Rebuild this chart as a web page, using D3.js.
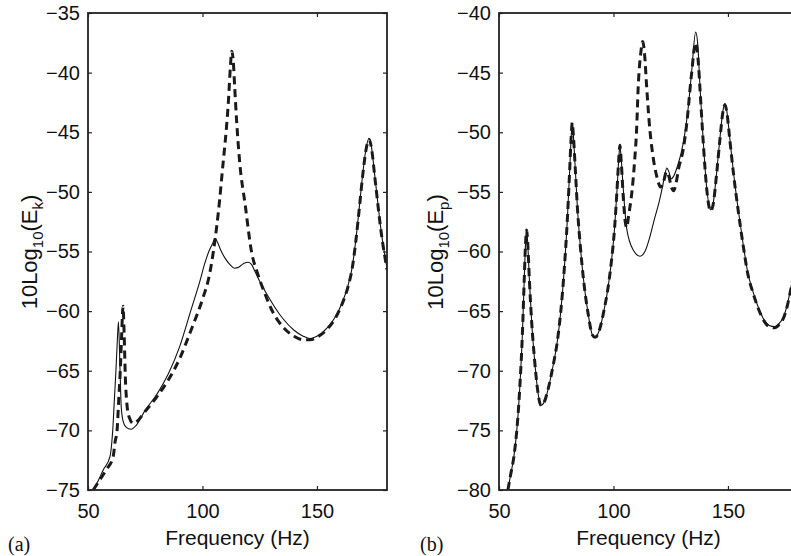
<!DOCTYPE html>
<html>
<head>
<meta charset="utf-8">
<script src="https://cdn.jsdelivr.net/npm/d3@7"></script>
<style>
  html, body { margin: 0; padding: 0; background: #fff; }
  svg text { font-family: "Liberation Sans", Arial, Helvetica, sans-serif; fill: #111; }
</style>
</head>
<body>
<div id="chart"></div>
<script>
/* ---------------------------------------------------------------------------
 * data (frequency in Hz, level in dB)
 * -------------------------------------------------------------------------*/
var xTicks = [50, 100, 150];
var yTicksK = [-75, -70, -65, -60, -55, -50, -45, -40, -35];
var yTicksP = [-80, -75, -70, -65, -60, -55, -50, -45, -40];

// (a) kinetic energy, thin solid line
var freqKSolid = [51, 52.3, 54.5, 56.7, 59.6, 60.3, 60.8, 61.5, 62.2, 62.8, 63.3, 64.0, 64.5, 65.3, 66.5, 68.8, 71, 75, 80, 85, 90, 95, 99,
    101, 103, 104.5, 105.5, 106.5, 108, 110, 112, 114, 116, 118, 120, 121.5, 123, 125, 128.8, 132, 135, 140,
    144, 147, 150, 155, 158, 161, 163.5, 165.5, 167, 168.5, 170, 171.5, 172.8, 173.8, 175.3, 178.2, 180.6];
var ekSolid = [-75.3, -75, -74.2, -73.3, -72.2, -71.2, -70, -67.5, -65, -62.5, -60.9, -65, -68, -69.2, -69.7, -69.9, -69.6, -68.3, -67.0, -65.3, -63.0, -59.9, -57.4,
    -56.0, -54.9, -54.3, -53.9, -54.2, -54.9, -55.6, -56.1, -56.4, -56.3, -56.0, -55.9, -56.1, -56.7, -57.5, -58.8, -59.8, -60.6, -61.6,
    -62.1, -62.3, -62.1, -61.3, -60.5, -59.3, -57.9, -56.2, -54.0, -51.3, -48.5, -46.3, -45.5, -46.2, -48.7, -53.5, -56.4];

// (a) kinetic energy, thick dashed line
var freqKDash = [52.3, 55, 58, 61, 61.8, 62.7, 63.4, 64.1, 64.7, 65.3, 65.8, 66.3, 67, 68, 69.7, 71, 75, 80, 85, 90, 95, 100,
    103, 105.5, 107, 109, 110.3, 111.3, 112.2, 112.8, 113.4, 114.1, 114.9, 116.3, 118.6, 121.5, 124, 127, 130, 135, 140,
    144, 147, 150, 155, 158, 161, 163.5, 165.5, 167, 168.5, 170, 171.5, 172.8, 173.8, 175.3, 178.2, 180.6];
var ekDash = [-75, -74.2, -73.3, -72.2, -71, -70, -67.5, -65, -62, -59.6, -62, -65.5, -67.8, -68.9, -69.4, -69.3, -68.4, -67.2, -65.8, -64.0, -61.6, -59.0,
    -57.0, -54.0, -51.6, -47.6, -45, -42.5, -39.5, -38.2, -38.9, -41.3, -44, -47.6, -51, -55.1, -56.8, -58.4, -59.8, -61.3, -62.1,
    -62.4, -62.4, -62.2, -61.4, -60.6, -59.4, -58.0, -56.3, -54.1, -51.4, -48.6, -46.4, -45.6, -46.3, -48.8, -53.6, -56.5];

// (b) potential energy, thin solid line
var freqPSolid = [53.9, 55, 56.5, 58, 59.2, 60.2, 61.0, 61.6, 62.1, 62.6, 63.3, 64.3, 65.5, 66.8, 68.3, 69.8, 71.5, 73.6, 75.5, 77,
    78.5, 79.8, 80.8, 81.5, 82, 82.5, 83.3, 84.3, 85.5, 87, 89, 90.8, 92, 94, 96, 97.5, 99, 100.5, 101.5, 102.3, 102.8,
    103.4, 104.3, 105.8, 108.7, 111.6, 114, 116, 118, 120, 121.5, 122.5, 123.3, 124.2, 125.2, 126.5, 128, 129.5, 131,
    132.5, 134.2, 135.9, 136.8, 137.8, 139.3, 140.7, 142.4, 143.5, 145, 146.5, 147.8, 148.7, 149.5, 150.8, 152.5, 154.5,
    156.5, 158.7, 161, 163.5, 166, 168, 170.5, 172.5, 174, 176, 177, 180];
var epSolid = [-80, -78.8, -77.2, -74.5, -71, -67, -62.5, -59.3, -58.2, -59.5, -62.5, -66, -69, -71.5, -72.9, -72.6, -71.5, -69.6, -67.5, -65,
    -61.5, -57.5, -53.5, -50.5, -49.2, -50.3, -53, -56.5, -59.5, -62.5, -65.3, -67, -67.2, -66.5, -64.8, -63.2, -61, -58, -55, -52.3, -51.1,
    -52.3, -54.8, -58.1, -59.9, -60.4, -59.9, -58.7, -57.2, -55.8, -54.5, -53.5, -53.0, -53.3, -53.9, -53.6, -52.8, -51.8, -50.3,
    -48.2, -44.8, -41.6, -42.6, -46.2, -51, -54.6, -56.5, -56, -53.5, -50.5, -48.2, -47.6, -48.2, -50.5, -53.5, -56.5,
    -59.2, -61.8, -63.4, -64.8, -65.8, -66.2, -66.3, -66, -65.6, -64.4, -63.5, -60.5];

// (b) potential energy, thick dashed line
var freqPDash = [53.9, 55, 56.5, 58, 59.2, 60.2, 61.0, 61.6, 62.1, 62.6, 63.3, 64.3, 65.5, 66.8, 68.3, 69.8, 71.5, 73.6, 75.5, 77,
    78.5, 79.8, 80.8, 81.5, 82, 82.5, 83.3, 84.3, 85.5, 87, 89, 90.8, 92, 94, 96, 97.5, 99, 100.5, 101.5, 102.3, 102.8,
    103.4, 104.3, 105.2, 105.8, 106.6, 108, 109.2, 110.1, 110.8, 111.9, 112.8, 113.6, 114.5, 115.9, 117.1, 118.9, 120.6,
    121.8, 123.2, 124.2, 125.3, 126.3, 127.3, 128.5, 130.4, 132, 134, 135.9, 137.2, 137.8, 139.3, 140.7, 142.4, 143.5,
    145, 146.5, 147.8, 148.7, 149.5, 150.8, 152.5, 154.5, 156.5, 158.7, 161, 163.5, 166, 168, 170.5, 172.5, 174, 176, 177, 180];
var epDash = [-80, -78.8, -77.2, -74.5, -71, -67, -62.5, -59.3, -58.2, -59.5, -62.5, -66, -69, -71.5, -72.9, -72.6, -71.5, -69.6, -67.5, -65,
    -61.5, -57.5, -53.5, -50.5, -49.2, -50.3, -53, -56.5, -59.5, -62.5, -65.3, -67, -67.2, -66.5, -64.8, -63.2, -61, -58, -55, -52.3, -51.1,
    -52.5, -55.5, -57.6, -58.0, -57.0, -55.1, -52.5, -49.8, -46.2, -43.4, -42.4, -43.5, -46.2, -49.8, -51.8, -53.7, -54.6,
    -54.2, -53.3, -53.7, -54.6, -54.9, -54.3, -53.0, -51.5, -49.3, -45.3, -42.5, -44.5, -46.4, -51.1, -54.7, -56.6, -56.1,
    -53.6, -50.6, -48.3, -47.7, -48.3, -50.6, -53.6, -56.6, -59.3, -61.9, -63.5, -64.9, -65.9, -66.3, -66.4, -66.1, -65.7, -64.5, -63.6, -60.6];

/* ---------------------------------------------------------------------------
 * drawing
 * -------------------------------------------------------------------------*/
var W = 791, H = 556;
var svg = d3.select('#chart').append('svg')
    .attr('width', W)
    .attr('height', H);

svg.append('rect').attr('width', W).attr('height', H).attr('fill', '#fff');

function zipSeries (fs, vs) {
    return fs.map(function (f, i) { return { f: f, v: vs[i] }; });
}

function drawPanel (opt) {
    var x = d3.scaleLinear().domain([50, 180.6]).range([opt.left, opt.left + 299]);
    var y = d3.scaleLinear().domain(opt.yDomain).range([490, 13]);
    var g = svg.append('g');
    var tick = 4;

    var clipId = 'clip-' + opt.name;
    svg.append('clipPath').attr('id', clipId)
        .append('rect')
        .attr('x', x.range()[0]).attr('y', 13)
        .attr('width', x.range()[1] - x.range()[0]).attr('height', 477);

    var line = d3.line()
        .x(function (d) { return x(d.f); })
        .y(function (d) { return y(d.v); })
        .curve(d3.curveMonotoneX);

    var curves = g.append('g').attr('clip-path', 'url(#' + clipId + ')');

    curves.append('path')
        .datum(zipSeries(opt.solidF, opt.solidV))
        .attr('d', line)
        .attr('fill', 'none')
        .attr('stroke', '#111')
        .attr('stroke-width', 1.1);

    curves.append('path')
        .datum(zipSeries(opt.dashF, opt.dashV))
        .attr('d', line)
        .attr('fill', 'none')
        .attr('stroke', '#1a1a1a')
        .attr('stroke-width', 3)
        .attr('stroke-dasharray', '8,5');

    // box with inward ticks on all four sides (matlab style)
    var xl = x.range()[0], xr = x.range()[1];
    g.append('rect')
        .attr('x', xl).attr('y', 13)
        .attr('width', xr - xl).attr('height', 477)
        .attr('fill', 'none')
        .attr('stroke', '#222')
        .attr('stroke-width', 1.8);

    var axB = d3.axisBottom(x).tickValues(xTicks).tickSizeInner(-tick).tickSizeOuter(0).tickPadding(10);
    var axT = d3.axisTop(x).tickValues(xTicks).tickSizeInner(-tick).tickSizeOuter(0).tickFormat('');
    var axL = d3.axisLeft(y).tickValues(opt.yTicks).tickSizeInner(-tick).tickSizeOuter(0).tickPadding(8);
    var axR = d3.axisRight(y).tickValues(opt.yTicks).tickSizeInner(-tick).tickSizeOuter(0).tickFormat('');

    var gb = g.append('g').attr('transform', 'translate(0,490)').call(axB);
    g.append('g').attr('transform', 'translate(0,13)').call(axT);
    g.append('g').attr('transform', 'translate(' + xl + ',0)').call(axL);
    g.append('g').attr('transform', 'translate(' + xr + ',0)').call(axR);

    g.selectAll('.domain').remove();
    g.selectAll('.tick line').attr('stroke', '#222').attr('stroke-width', 1.2);
    g.selectAll('.tick text')
        .attr('fill', '#111')
        .style('font-family', '"Liberation Sans", Arial, sans-serif')
        .style('font-size', '20px');
    gb.selectAll('.tick text').attr('dy', '0.9em');

    // x label
    g.append('text')
        .attr('x', (xl + xr) / 2)
        .attr('y', 545)
        .attr('text-anchor', 'middle')
        .style('font-size', '21px')
        .text('Frequency (Hz)');

    // y label with subscripts
    var yl = g.append('text')
        .attr('transform', 'translate(' + opt.yLabelX + ',252) rotate(-90)')
        .attr('text-anchor', 'middle')
        .style('font-size', '22px');
    yl.append('tspan').text('10Log');
    yl.append('tspan').attr('dy', 6).style('font-size', '15px').text('10');
    yl.append('tspan').attr('dy', -6).text('(E');
    yl.append('tspan').attr('dy', 6).style('font-size', '15px').text(opt.sub);
    yl.append('tspan').attr('dy', -6).text(')');

    // panel letter
    g.append('text')
        .attr('x', opt.letterX)
        .attr('y', 551)
        .style('font-family', '"Liberation Serif", "Times New Roman", serif')
        .style('font-size', '20px')
        .text(opt.letter);
}

drawPanel({
    name: 'a', left: 88, yDomain: [-75, -35], yTicks: yTicksK,
    solidF: freqKSolid, solidV: ekSolid, dashF: freqKDash, dashV: ekDash,
    yLabelX: 37, sub: 'k', letter: '(a)', letterX: 8
});

drawPanel({
    name: 'b', left: 499, yDomain: [-80, -40], yTicks: yTicksP,
    solidF: freqPSolid, solidV: epSolid, dashF: freqPDash, dashV: epDash,
    yLabelX: 443, sub: 'p', letter: '(b)', letterX: 420
});
</script>
</body>
</html>
